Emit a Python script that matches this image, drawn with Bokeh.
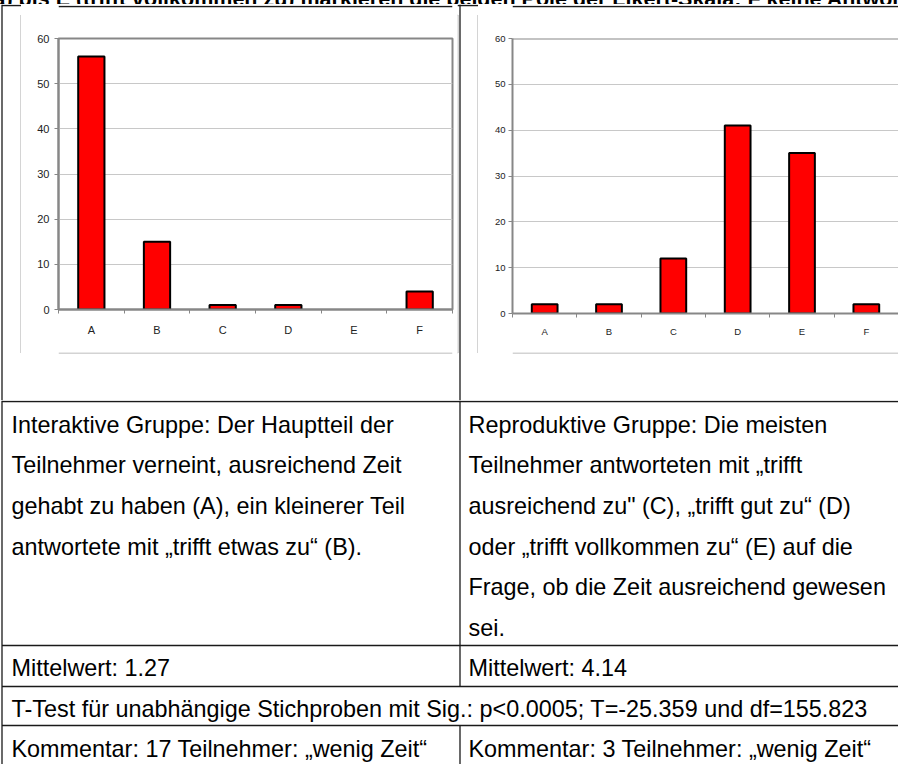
from bokeh.plotting import figure
from bokeh.models import (ColumnDataSource, Range1d, LinearAxis, FixedTicker, Span,
                          Grid, CDSView, BooleanFilter)
from bokeh.layouts import column, row
from bokeh.embed import file_html
from bokeh.resources import INLINE
from bokeh.core.properties import value

# ---------------- data ----------------
categories = ["A", "B", "C", "D", "E", "F"]
interaktive_counts = [56, 15, 1, 1, 0, 4]
reproduktive_counts = [2, 2, 12, 41, 35, 2]
y_ticks = [0, 10, 20, 30, 40, 50, 60]

caption = "a) bis E (trifft vollkommen zu) markieren die beiden Pole der Likert-Skala; F keine Antwort"
left_desc = [
    "Interaktive Gruppe: Der Hauptteil der",
    "Teilnehmer verneint, ausreichend Zeit",
    "gehabt zu haben (A), ein kleinerer Teil",
    "antwortete mit \u201etrifft etwas zu\u201c (B).",
]
right_desc = [
    "Reproduktive Gruppe: Die meisten",
    "Teilnehmer antworteten mit \u201etrifft",
    "ausreichend zu\" (C), \u201etrifft gut zu\u201c (D)",
    "oder \u201etrifft vollkommen zu\u201c (E) auf die",
    "Frage, ob die Zeit ausreichend gewesen",
    "sei.",
]
mean_left = "Mittelwert: 1.27"
mean_right = "Mittelwert: 4.14"
ttest = "T-Test f\u00fcr unabh\u00e4ngige Stichproben mit Sig.: p<0.0005; T=-25.359 und df=155.823"
comment_left = "Kommentar: 17 Teilnehmer: \u201ewenig Zeit\u201c"
comment_right = "Kommentar: 3 Teilnehmer: \u201ewenig Zeit\u201c"

# ---------------- style / layout constants (page pixels) ----------------
FONT = "Liberation Sans"
AXIS_GRAY = "#878787"
GRID_GRAY = "#c8c8c8"
BOX_GRAY = "#a8a8a8"
RULE = "#1a1a1a"
RULE_W = 1.3
W, H = 906, 772
TOP_H = 12                      # caption strip
ROW_Y0, ROW_Y1 = 12, 408        # chart row
BOX_TOP, BOX_BOT = 22.5, 360.5  # gray chart boxes
X_EDGE, Y_TOPRULE, X_DIV = 9.5, 13, 467.5
LBOX_L, LBOX_R, RBOX_L = 28.5, 465.5, 485.5


def clean(p):
    p.center = [r for r in p.center if not isinstance(r, Grid)]
    p.outline_line_color = None


def deco(x0, y0, w, h, hsegs=(), vsegs=()):
    """blank figure whose data space is page pixels; draws table / box rules"""
    p = figure(width=w, height=h, x_range=Range1d(x0, x0 + w), y_range=Range1d(y0 + h, y0),
               x_axis_location=None, y_axis_location=None, min_border=0,
               output_backend="svg", toolbar_location=None, tools="",
               background_fill_color="white", border_fill_color="white")
    clean(p)
    for y, xa, xb, c, lw in hsegs:
        p.segment(x0=[xa], x1=[xb], y0=[y], y1=[y], line_color=c, line_width=lw)
    for x, ya, yb, c, lw in vsegs:
        p.segment(x0=[x], x1=[x], y0=[ya], y1=[yb], line_color=c, line_width=lw)
    return p


def bar_chart(counts, width, height, b_left, b_right, b_top, b_bottom, label_px,
              label_standoff, cat_standoff, outline):
    n = len(categories)
    centers = [i + 0.5 for i in range(n)]
    p = figure(width=width, height=height,
               x_range=Range1d(0, n), y_range=Range1d(0, 60),
               x_axis_location=None, y_axis_location=None,
               output_backend="svg", toolbar_location=None, tools="",
               min_border_left=b_left, min_border_right=b_right,
               min_border_top=b_top, min_border_bottom=b_bottom,
               background_fill_color="white", border_fill_color="white")
    clean(p)
    p.add_layout(Grid(dimension=1, ticker=FixedTicker(ticks=y_ticks[1:-1]),
                      grid_line_color=GRID_GRAY, grid_line_width=1))

    yax = LinearAxis(ticker=FixedTicker(ticks=y_ticks), axis_line_color=AXIS_GRAY, axis_line_width=2,
                     major_tick_line_color=AXIS_GRAY, major_tick_in=0, major_tick_out=4,
                     minor_tick_line_color=None, major_label_standoff=label_standoff,
                     major_label_text_font=FONT, major_label_text_font_size=f"{label_px}px",
                     major_label_text_color="#222222")
    p.add_layout(yax, "left")

    # category names at slot centres, small tick marks at slot boundaries
    xax = LinearAxis(ticker=FixedTicker(ticks=centers, minor_ticks=list(range(n + 1))),
                     major_label_overrides={c: name for c, name in zip(centers, categories)},
                     axis_line_color=AXIS_GRAY, axis_line_width=2,
                     major_tick_line_color=None, major_tick_in=0, major_tick_out=0,
                     minor_tick_line_color=AXIS_GRAY, minor_tick_in=0, minor_tick_out=4,
                     major_label_standoff=cat_standoff, major_label_text_font=FONT,
                     major_label_text_font_size=f"{label_px}px",
                     major_label_text_color="#222222")
    p.add_layout(xax, "below")

    src = ColumnDataSource(dict(x=centers, cat=categories, n=counts))
    view = CDSView(filter=BooleanFilter([c > 0 for c in counts]))
    p.vbar(x="x", top="n", width=0.4, source=src, view=view,
           fill_color="#ff0000", line_color="black", line_width=2)

    if outline:
        p.outline_line_color = AXIS_GRAY
        p.outline_line_width = 2
    else:
        p.add_layout(Span(location=60, dimension="width", line_color=AXIS_GRAY, line_width=2))
    return p


# ---------------- caption strip (cut at the top, as in the source) ----------------
top = figure(width=W, height=TOP_H, x_range=Range1d(0, W), y_range=Range1d(TOP_H, 0),
             x_axis_location=None, y_axis_location=None, min_border=0,
             output_backend="svg", toolbar_location=None, tools="",
             background_fill_color="white", border_fill_color="white")
clean(top)
top.text(x=[1], y=[6], text=[caption], text_font=value(FONT), text_font_style="bold",
         text_font_size="21.5px", text_baseline="alphabetic", text_color="black")

# ---------------- chart row ----------------
ROW_H = ROW_Y1 - ROW_Y0
LX0, LX1 = 29, 465          # left chart figure
MX0, MX1 = 465, 486         # middle strip
RX0, RX1 = 486, W           # right chart figure
CY0, CY1 = 23, 360          # chart figures vertical extent

edge_left = deco(0, ROW_Y0, LX0, ROW_H,
                 hsegs=[(Y_TOPRULE, X_EDGE, LX0, RULE, RULE_W),
                        (BOX_TOP, LBOX_L, LX0, BOX_GRAY, 1), (BOX_BOT, LBOX_L, LX0, BOX_GRAY, 1)],
                 vsegs=[(X_EDGE, ROW_Y0, ROW_Y1, RULE, RULE_W), (LBOX_L, BOX_TOP, BOX_BOT, BOX_GRAY, 1)])

def gap_figs(x0, x1):
    g_top = deco(x0, ROW_Y0, x1 - x0, CY0 - ROW_Y0,
                 hsegs=[(Y_TOPRULE, x0, x1, RULE, RULE_W), (BOX_TOP, x0, x1, BOX_GRAY, 1)])
    g_bot = deco(x0, CY1, x1 - x0, ROW_Y1 - CY1,
                 hsegs=[(BOX_BOT, x0, x1, BOX_GRAY, 1)])
    return g_top, g_bot

lt, lb = gap_figs(LX0, LX1)
rt, rb = gap_figs(RX0, RX1)

mid = deco(MX0, ROW_Y0, MX1 - MX0, ROW_H,
           hsegs=[(Y_TOPRULE, MX0, MX1, RULE, RULE_W),
                  (BOX_TOP, MX0, LBOX_R, BOX_GRAY, 1), (BOX_BOT, MX0, LBOX_R, BOX_GRAY, 1),
                  (BOX_TOP, RBOX_L, MX1, BOX_GRAY, 1), (BOX_BOT, RBOX_L, MX1, BOX_GRAY, 1)],
           vsegs=[(LBOX_R, BOX_TOP, BOX_BOT, BOX_GRAY, 1), (X_DIV, ROW_Y0, ROW_Y1, RULE, RULE_W),
                  (RBOX_L, BOX_TOP, BOX_BOT, BOX_GRAY, 1)])

# plot areas: left x 66..460, y 46..317 ; right x 520..906, y 46..321 (page pixels)
left_chart = bar_chart(interaktive_counts, LX1 - LX0, CY1 - CY0,
                       66 - LX0, LX1 - 460, 46 - CY0, CY1 - 317, 11, 5, 10, True)
right_chart = bar_chart(reproduktive_counts, RX1 - RX0, CY1 - CY0,
                        520 - RX0, 0, 46 - CY0, CY1 - 321, 9.5, 3, 8, False)

chart_row = row(edge_left, column(lt, left_chart, lb), mid, column(rt, right_chart, rb))

# ---------------- lower part of the table ----------------
Y0 = ROW_Y1
bottom = figure(width=W, height=H - Y0, x_range=Range1d(0, W), y_range=Range1d(H, Y0),
                x_axis_location=None, y_axis_location=None, min_border=0,
                output_backend="svg", toolbar_location=None, tools="",
                background_fill_color="white", border_fill_color="white")
clean(bottom)

row_tops = [409, 653, 694, 733]
LINE_GAP = 40.7
X_L, X_R = 19, 476

bottom.segment(x0=[X_EDGE] * len(row_tops), x1=[W + 5] * len(row_tops),
               y0=row_tops, y1=row_tops, line_color=RULE, line_width=RULE_W)
bottom.segment(x0=[X_EDGE, X_DIV, X_DIV], x1=[X_EDGE, X_DIV, X_DIV],
               y0=[Y0, Y0, row_tops[3]], y1=[H + 5, row_tops[2], H + 5],
               line_color=RULE, line_width=RULE_W)

txt_x, txt_y, txt = [], [], []
for i, s in enumerate(left_desc):
    txt_x.append(X_L); txt_y.append(row_tops[0] + 23 + i * LINE_GAP); txt.append(s)
for i, s in enumerate(right_desc):
    txt_x.append(X_R); txt_y.append(row_tops[0] + 23 + i * LINE_GAP); txt.append(s)
for x, y, s in [(X_L, row_tops[1] + 22.5, mean_left), (X_R, row_tops[1] + 22.5, mean_right),
                (X_L, row_tops[2] + 22.5, ttest),
                (X_L, row_tops[3] + 23, comment_left), (X_R, row_tops[3] + 23, comment_right)]:
    txt_x.append(x); txt_y.append(y); txt.append(s)

bottom.text(x=txt_x, y=txt_y, text=txt, text_font=value(FONT), text_font_size="23.4px",
            text_baseline="alphabetic", text_align="left", text_color="black")

layout = column(top, chart_row, bottom, styles={"margin": "-8px"})

open("out.html", "w").write(file_html(layout, INLINE))
